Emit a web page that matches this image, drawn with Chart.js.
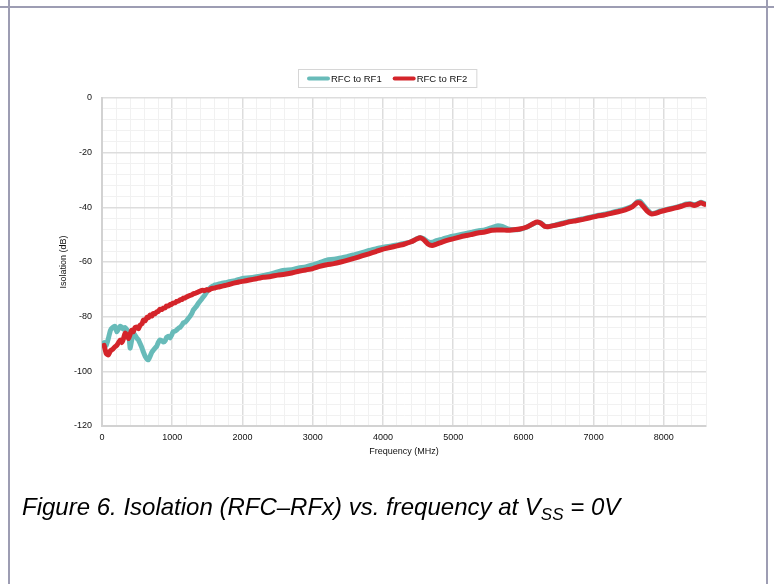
<!DOCTYPE html>
<html>
<head>
<meta charset="utf-8">
<script src="https://cdn.jsdelivr.net/npm/chart.js@4.4.0/dist/chart.umd.min.js"></script>
<style>
  html, body { margin: 0; padding: 0; background: #fff; }
  #wrap { position: relative; width: 774px; height: 584px; overflow: hidden; background: #fff; }
  #chart { position: absolute; left: 0; top: 0; }
  .rule { position: absolute; background: #9d9db3; }
  #caption {
    position: absolute; left: 22px; top: 495px;
    font-family: "Liberation Sans", Arial, sans-serif;
    font-style: italic; font-size: 24px; line-height: 24px; color: #000; white-space: nowrap;
  }
  #caption sub { font-size: 17px; vertical-align: -5px; line-height: 0; }
</style>
</head>
<body>
<div id="wrap">
  <canvas id="chart" width="774" height="584"></canvas>
  <div class="rule" style="left:0;top:6px;width:774px;height:2px"></div>
  <div class="rule" style="left:8px;top:0;width:2px;height:584px"></div>
  <div class="rule" style="left:766px;top:0;width:2px;height:584px"></div>
  <div id="caption">Figure 6. Isolation (RFC–RFx) vs. frequency at V<sub>SS</sub> = 0V</div>
</div>
<script>
// Measured isolation between the common port and each RF port (dB vs MHz)
const seriesNames = ['RFC to RF1', 'RFC to RF2'];

const freqMHz = [
  30, 60, 90, 120, 150, 185, 210, 235, 260, 280,
  300, 330, 360, 380, 400, 420, 445, 470, 500, 520,
  545, 570, 590, 615, 640, 660, 685, 710, 730, 755,
  780, 800, 825, 850, 875, 900, 920, 945, 970, 990,
  1015, 1040, 1065, 1090, 1115, 1140, 1160, 1185, 1210, 1230,
  1255, 1280, 1300, 1325, 1350, 1375, 1400, 1430, 1460, 1490,
  1520, 1550, 1580, 1610, 1650, 1700, 1750, 1800, 1850, 1900,
  1950, 2000, 2100, 2200, 2300, 2400, 2500, 2600, 2700, 2800,
  2900, 3000, 3100, 3200, 3300, 3400, 3500, 3600, 3700, 3800,
  3900, 4000, 4100, 4200, 4300, 4400, 4480, 4530, 4580, 4640,
  4700, 4760, 4850, 4950, 5050, 5150, 5250, 5350, 5450, 5550,
  5620, 5700, 5780, 5860, 5950, 6050, 6150, 6200, 6250, 6300,
  6350, 6450, 6550, 6650, 6750, 6850, 6950, 7050, 7150, 7250,
  7350, 7450, 7550, 7620, 7660, 7700, 7760, 7820, 7880, 7950,
  8050, 8150, 8250, 8320, 8380, 8430, 8480, 8530, 8580
];

const rfcToRf1 = [
  -89.5, -90.5, -88, -85, -84, -83.5, -85.5, -84.5, -83.5, -83.8,
  -84.5, -84, -85, -85.8, -91.5, -89, -86, -86.8, -88, -88.5,
  -90, -91.5, -93, -94.5, -95.5, -95.8, -94.5, -93, -92.3, -91.5,
  -90.8, -89.5, -88.5, -88.8, -89.3, -88.8, -87.5, -87.2, -87.8, -86.8,
  -85.5, -85.3, -84.8, -84.2, -83.8, -83, -82.2, -82, -81.3, -80.6,
  -79.8, -78.8, -77.6, -76.8, -76, -75, -74.2, -73.2, -72.2, -71,
  -70, -69.2, -68.8, -68.4, -68.2, -67.8, -67.6, -67.3, -67, -66.8,
  -66.4, -66, -65.8, -65.4, -64.9, -64.4, -63.6, -63, -62.8, -62.2,
  -61.8, -61.1, -60.2, -59.3, -59, -58.5, -58, -57.3, -56.6, -55.8,
  -55.2, -54.6, -54.2, -53.8, -53.2, -52.6, -51.5, -51, -51.5, -52.6,
  -52.8, -52.2, -51.6, -50.8, -50.3, -49.7, -49.2, -48.6, -48.3, -47.4,
  -46.8, -47, -47.9, -48.2, -48, -47.2, -45.9, -45.5, -45.7, -46.8,
  -47, -46.5, -45.8, -45.2, -44.7, -44.2, -43.6, -43, -42.5, -42,
  -41.3, -40.6, -39.6, -38, -37.8, -38.9, -40.8, -42.2, -42, -41.3,
  -40.7, -40.1, -39.4, -38.8, -38.7, -39, -38.7, -38.1, -38.6
];

const rfcToRf2 = [
  -90.5, -93.5, -94, -92.5, -92, -91, -90.5, -89.5, -88.5, -89.5,
  -88.5, -86, -87, -88, -86.5, -85, -85.5, -84, -83.8, -84.4,
  -83, -82.6, -81.2, -81.5, -80.2, -80.4, -79.4, -79.8, -78.8, -78.9,
  -78.2, -78.1, -77.3, -77.4, -76.8, -76.8, -76.1, -76.1, -75.5, -75.5,
  -75, -74.9, -74.4, -74.3, -73.8, -73.7, -73.2, -73.1, -72.7, -72.5,
  -72.2, -72, -71.6, -71.5, -71.2, -70.9, -70.6, -70.3, -70.5, -70.1,
  -70.3, -69.8, -69.6, -69.5, -69.2, -68.9, -68.6, -68.3, -67.9, -67.6,
  -67.3, -67.1, -66.6, -66.1, -65.6, -65.3, -64.8, -64.5, -64, -63.4,
  -62.9, -62.4, -61.6, -61, -60.6, -60, -59.3, -58.6, -57.8, -57,
  -56.2, -55.3, -54.7, -54.1, -53.5, -52.6, -51.6, -51.1, -51.8, -53.4,
  -54, -53.5, -52.6, -51.8, -51.2, -50.5, -50, -49.4, -49, -48.4,
  -48.3, -48.3, -48.4, -48.2, -47.9, -47.2, -45.8, -45.4, -45.9, -46.9,
  -47.1, -46.6, -46, -45.3, -44.9, -44.4, -43.8, -43.2, -42.8, -42.2,
  -41.6, -40.9, -39.8, -38.3, -38.4, -39.5, -41.3, -42.4, -42.2, -41.6,
  -40.9, -40.3, -39.6, -39, -38.9, -39.3, -38.9, -38.3, -38.9
];

const xTickLabels = [0, 1000, 2000, 3000, 4000, 5000, 6000, 7000, 8000];
const yTickLabels = [0, -20, -40, -60, -80, -100, -120];

const FONT = '"Liberation Sans", Arial, sans-serif';
const MAJOR_GRID = '#dddddd';
const MINOR_GRID = '#f1f1f1';

function toPoints(values) {
  return freqMHz.map((f, i) => ({ x: f, y: values[i] }));
}

// Boxed legend centred above the plot: short thick line followed by its label
const boxedLegend = {
  id: 'boxedLegend',
  afterDraw(chart) {
    const ctx = chart.ctx;
    const ds = chart.data.datasets;
    const swatch = 23, gap = 1, itemGap = 11, padX = 9;
    const top = 69, height = 18;
    ctx.save();
    ctx.font = '9.5px ' + FONT;
    const widths = ds.map(d => swatch + gap + ctx.measureText(d.label).width);
    const total = padX * 2 + widths.reduce((a, b) => a + b, 0) + itemGap * (ds.length - 1);
    const left = Math.round(chart.width / 2 - total / 2);
    ctx.strokeStyle = '#d6d6d6';
    ctx.lineWidth = 1;
    ctx.strokeRect(left + 0.5, top + 0.5, total, height);
    let x = left + padX;
    const cy = top + height / 2 + 0.5;
    ds.forEach((d, i) => {
      ctx.strokeStyle = d.borderColor;
      ctx.lineWidth = 4;
      ctx.lineCap = 'round';
      ctx.beginPath();
      ctx.moveTo(x + 2, cy);
      ctx.lineTo(x + swatch - 2, cy);
      ctx.stroke();
      ctx.fillStyle = '#111';
      ctx.textBaseline = 'middle';
      ctx.textAlign = 'left';
      ctx.fillText(d.label, x + swatch + gap, cy + 0.5);
      x += widths[i] + itemGap;
    });
    ctx.restore();
  }
};

new Chart(document.getElementById('chart'), {
  type: 'line',
  data: {
    datasets: [
      {
        label: seriesNames[0],
        data: toPoints(rfcToRf1),
        borderColor: '#68bbb9',
        backgroundColor: '#68bbb9',
        borderWidth: 5,
        pointRadius: 0,
        tension: 0.15,
        borderJoinStyle: 'round',
        borderCapStyle: 'round',
        order: 2
      },
      {
        label: seriesNames[1],
        data: toPoints(rfcToRf2),
        borderColor: '#d4242a',
        backgroundColor: '#d4242a',
        borderWidth: 5,
        pointRadius: 0,
        tension: 0.15,
        borderJoinStyle: 'round',
        borderCapStyle: 'round',
        order: 1
      }
    ]
  },
  options: {
    responsive: false,
    animation: false,
    devicePixelRatio: 1,
    layout: { padding: { left: 40, right: 68, top: 98, bottom: 118 } },
    plugins: {
      legend: { display: false },
      tooltip: { enabled: false }
    },
    scales: {
      x: {
        type: 'linear',
        min: 0,
        max: 8600,
        afterFit(scale) { scale.height = 40; },
        border: { display: true, color: '#d2d2d2', width: 2 },
        grid: {
          drawTicks: false,
          lineWidth: ctx => (ctx.tick && ctx.tick.value % 1000 === 0) ? 1.5 : 1,
          color: ctx => (ctx.tick && ctx.tick.value % 1000 === 0) ? MAJOR_GRID : MINOR_GRID
        },
        ticks: {
          stepSize: 200,
          maxTicksLimit: 100,
          autoSkip: false,
          maxRotation: 0,
          padding: 6,
          color: '#111',
          font: { family: FONT, size: 9 },
          callback: v => xTickLabels.includes(v) ? String(v) : ''
        },
        title: {
          display: true,
          text: 'Frequency (MHz)',
          color: '#111',
          font: { family: FONT, size: 9 },
          padding: { top: 0, bottom: 9 }
        }
      },
      y: {
        type: 'linear',
        min: -120,
        max: 0,
        afterFit(scale) { scale.width = 62; },
        border: { display: true, color: '#d2d2d2', width: 2 },
        grid: {
          drawTicks: false,
          lineWidth: ctx => (ctx.tick && ctx.tick.value % 20 === 0) ? 1.5 : 1,
          color: ctx => (ctx.tick && ctx.tick.value % 20 === 0) ? MAJOR_GRID : MINOR_GRID
        },
        ticks: {
          stepSize: 4,
          maxTicksLimit: 100,
          autoSkip: false,
          padding: 10,
          color: '#111',
          font: { family: FONT, size: 9 },
          callback: v => yTickLabels.includes(v) ? String(v) : ''
        },
        title: {
          display: true,
          text: 'Isolation (dB)',
          color: '#111',
          font: { family: FONT, size: 9 },
          padding: { top: 18, bottom: 0 }
        }
      }
    }
  },
  plugins: [boxedLegend]
});
</script>
</body>
</html>
